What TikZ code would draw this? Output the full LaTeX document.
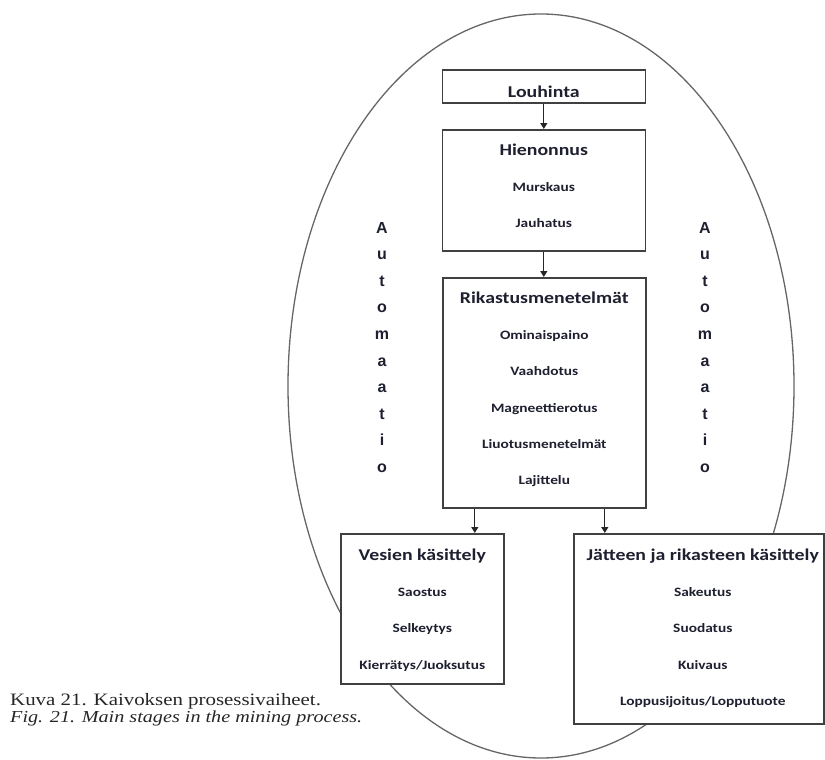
\documentclass[tikz,border=0pt]{standalone}
\usepackage{fontspec}
\usepackage{xcolor}
\usepackage{tikz}
\usetikzlibrary{arrows.meta, positioning}

\newfontfamily\boxfont[FakeStretch=1.2]{Carlito}
\newfontfamily\autofont{Liberation Sans}
\newfontfamily\capfont[FakeStretch=1.2]{Liberation Serif}
\definecolor{inkdark}{RGB}{30,32,48}

% title line of a stage box
\newcommand\stagetitle[1]{{\fontsize{16.5}{36.3}\selectfont\rule{0pt}{15pt}#1}}

\begin{document}
\begin{tikzpicture}[
    x=1pt, y=-1pt,
    stage/.style={draw=black!75, line width=1.6pt, fill=white, anchor=north west, inner sep=0pt},
    stagetext/.style={align=center, inner sep=0pt, text=inkdark,
      font=\boxfont\bfseries\fontsize{12.8}{36.3}\selectfont},
    flow/.style={draw=black!85, line width=1.3pt, -{Triangle[length=6pt, width=7pt]}},
    autoletter/.style={font=\autofont\bfseries\fontsize{16}{16}\selectfont,
      text=inkdark, inner sep=0pt, anchor=base},
    caption/.style={font=\capfont\fontsize{17.4}{17}\selectfont, text=black!85,
      inner sep=0pt, anchor=base west}
  ]
  \useasboundingbox (0,0) rectangle (825,760);

  % automation ring
  \draw[black!60, line width=1.3pt] (541,386) ellipse [x radius=253, y radius=372];

  % stage boxes
  \node[stage, minimum width=203pt, minimum height=33pt] (louh) at (441.5,69) {};
  \node[stage, minimum width=203pt, minimum height=121pt] (hien) at (441.5,129) {};
  \node[stage, minimum width=203pt, minimum height=230pt] (rik) at (442,277) {};
  \node[stage, minimum width=163pt, minimum height=150pt] (ves) at (340,533) {};
  \node[stage, minimum width=250pt, minimum height=190pt] (jat) at (573,533) {};

  \node[stagetext, below=13pt of louh.north] (louh-t) {\stagetitle{Louhinta}};
  \node[stagetext, below=11pt of hien.north] (hien-t) {\stagetitle{Hienonnus}\\
    Murskaus\\ Jauhatus};
  \node[stagetext, below=11pt of rik.north] (rik-t) {\stagetitle{Rikastusmenetelmät}\\
    Ominaispaino\\ Vaahdotus\\ Magneettierotus\\ Liuotusmenetelmät\\ Lajittelu};
  \node[stagetext, below=12pt of ves.north] (ves-t) {\stagetitle{Vesien käsittely}\\
    Saostus\\ Selkeytys\\ Kierrätys/Juoksutus};
  \node[stagetext, below=12pt of jat.north, xshift=4pt] (jat-t) {\stagetitle{Jätteen ja rikasteen käsittely}\\
    Sakeutus\\ Suodatus\\ Kuivaus\\ Loppusijoitus/Lopputuote};

  % flow between stages
  \coordinate (ves-in) at ([xshift=52.5pt]ves.north);
  \coordinate (jat-in) at ([xshift=-94pt]jat.north);
  \draw[flow] (louh.south) -- (hien.north);
  \draw[flow] (hien.south) -- (rik.north -| hien.south);
  \draw[flow] (rik.south -| ves-in) -- (ves-in);
  \draw[flow] (rik.south -| jat-in) -- (jat-in);

  % vertical word on both sides
  \foreach \ch [count=\k from 0] in {A,u,t,o,m,a,a,t,i,o} {
    \node[autoletter] (auto-l\k) at (382, 233+26.6*\k) {\ch};
    \node[autoletter] (auto-r\k) at (705, 233+26.6*\k) {\ch};
  }

  % caption
  \node[caption] (cap-fi) at (10,705) {Kuva 21. Kaivoksen prosessivaiheet.};
  \node[caption] (cap-en) at (10,722) {\itshape\fontsize{16.8}{17}\selectfont Fig. 21. Main stages in the mining process.};
\end{tikzpicture}
\end{document}
